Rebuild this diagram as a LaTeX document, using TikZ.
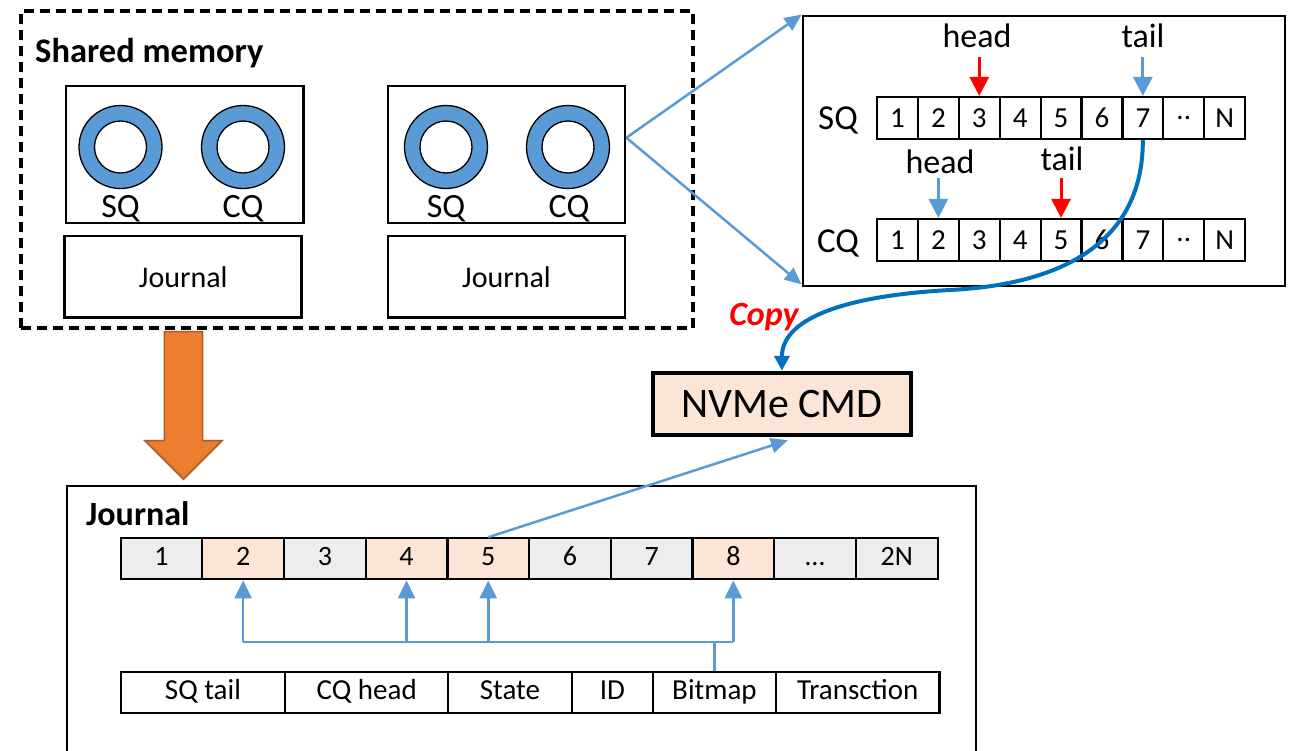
\documentclass[tikz,border=0pt]{standalone}
\usepackage{fontspec}
\setmainfont{Carlito}
\usetikzlibrary{arrows.meta,calc}
\definecolor{ringblue}{HTML}{5B9BD5}
\definecolor{lblue}{HTML}{5B9BD5}
\definecolor{dblue}{HTML}{0070C0}
\definecolor{peach}{HTML}{FBE5D6}
\definecolor{lgray}{HTML}{EDEDED}
\definecolor{orng}{HTML}{ED7D31}
\definecolor{orngd}{HTML}{AE5A21}
\newcommand{\fs}[1]{\fontsize{#1}{#1}\selectfont}
\newcommand{\twodots}{..}
\newcommand{\jdots}{\ldots}
\begin{document}
\begin{tikzpicture}[x=1pt,y=-1pt,
  box/.style={draw, line width=2.8pt, inner sep=0pt},
  ringnode/.style={circle, draw, line width=1.3pt, fill=ringblue, minimum size=83pt, inner sep=0pt},
  holenode/.style={circle, draw, line width=1.3pt, fill=white, minimum size=52pt, inner sep=0pt},
  qcell/.style={draw, line width=2.2pt, minimum width=40.9pt, minimum height=42pt, inner sep=0pt, font=\fs{29}},
  jcell/.style={draw, line width=2.2pt, minimum width=81.7pt, minimum height=41pt, inner sep=0pt, font=\fs{28}, text height=19pt, text depth=5pt},
  fcell/.style={draw, line width=2.2pt, minimum height=41.6pt, inner sep=0pt, font=\fs{29}, text height=20pt, text depth=6pt},
  lbl/.style={inner sep=0pt, anchor=base},
  bigtip/.style={-{Triangle[width=19pt,length=19pt]}, line width=3pt},
  thinarrow/.style={-{Triangle[width=15pt,length=17pt]}, line width=2.5pt, draw=lblue},
]
\useasboundingbox (0,0) rectangle (1289,750);
\clip (0,0) rectangle (1289,750);

% Shared memory
\node[draw, line width=3.5pt, dash pattern=on 10pt off 6pt, minimum width=672pt, minimum height=317pt, anchor=north west, inner sep=0pt] (shm) at (19,9) {};
\node[anchor=base west, inner sep=0pt, font=\bfseries\fs{34.5}] (shmt) at (35,62) {Shared memory};

\node[box, minimum width=237.6pt, minimum height=137pt] (lb) at (184.8,154.5) {};
\node[box, minimum width=237pt, minimum height=137pt] (rb) at (506.5,154.5) {};
\node[box, minimum width=237pt, minimum height=81.7pt, font=\fs{30}] (lj) at (183.3,276.9) {Journal};
\node[box, minimum width=237pt, minimum height=81.7pt, font=\fs{30}] (rj) at (506.5,276.9) {Journal};

\foreach \n/\x in {a/120.5, b/243, c/446, d/568} {
  \node[ringnode] (ring\n) at (\x,147) {};
  \node[holenode] (hole\n) at (\x,147) {};
}
\node[lbl, font=\fs{34}] (sqa) at (120.5,217) {SQ};
\node[lbl, font=\fs{34}] (cqa) at (243,217) {CQ};
\node[lbl, font=\fs{34}] (sqb) at (446,217) {SQ};
\node[lbl, font=\fs{34}] (cqb) at (569,217) {CQ};

% Queue box
\node[box, minimum width=482pt, minimum height=270pt] (qb) at (1044,151) {};
\node[lbl, font=\fs{35}] (sqlab) at (838,129) {SQ};
\node[lbl, font=\fs{35}] (cqlab) at (838,252) {CQ};
\foreach \i/\t in {1/1,2/2,3/3,4/4,5/5,6/6,7/7,8/\twodots,9/N} {
  \node[qcell] (sq\i) at ({877+40.9*(\i-0.5)},118) {\t};
  \node[qcell] (cq\i) at ({877+40.9*(\i-0.5)},240) {\t};
}
\node[lbl, font=\fs{34}] (sqhead) at (977,47) {head};
\node[lbl, font=\fs{34}] (sqtail) at (1143,47) {tail};
\node[lbl, font=\fs{34}] (cqhead) at (940,173) {head};
\node[lbl, font=\fs{34}] (cqtail) at (1062,170) {tail};
\draw[bigtip, red, shorten <=10pt] (sq3.north |- sqhead.south) -- (sq3.north);
\draw[bigtip, lblue, shorten <=10pt] (sq7.north |- sqtail.south) -- (sq7.north);
\draw[bigtip, lblue, shorten <=5pt] (cq2.north |- cqhead.south) -- (cq2.north);
\draw[bigtip, red, shorten <=8pt] (cq5.north |- cqtail.south) -- (cq5.north);

% fan arrows
\coordinate (fan) at ($(rb.north east)!0.38!(rb.south east)$);
\draw[thinarrow] (fan) -- (qb.north west);
\draw[thinarrow] (fan) -- ([yshift=3pt]qb.south west);

% NVMe CMD
\node[draw, line width=4.5pt, fill=peach, minimum width=257.7pt, minimum height=62pt, inner sep=0pt, font=\fs{42}] (nvme) at (781.9,404) {NVMe CMD};
\node[inner sep=0pt, text=red, font=\bfseries\itshape\fs{34}] (copy) at (764,317) {Copy};
\draw[dblue, line width=4pt, -{Triangle[width=15pt,length=15pt]}] (sq7.south) .. controls (1143,250) and (1050,285) .. (950,290) .. controls (840,296) and (nvme.north |- 0,320) .. (nvme.north);

% orange arrow
\draw[fill=orng, draw=orngd, line width=1.5pt, line join=miter] (164.3,331.7) -- (202.7,331.7) -- (202.7,440.7) -- (222,440.7) -- (183.5,479.3) -- (145,440.7) -- (164.3,440.7) -- cycle;

% Journal box
\node[draw, line width=2.2pt, minimum width=909pt, minimum height=300pt, anchor=north west, inner sep=0pt] (jbox) at (66,485) {};
\node[anchor=base west, inner sep=0pt, font=\bfseries\fs{34}] (jt) at (86,525) {Journal};
\foreach \i/\t/\c in {1/1/lgray, 2/2/peach, 3/3/lgray, 4/4/peach, 5/5/peach, 6/6/lgray, 7/7/lgray, 8/8/peach, 9/\jdots/lgray, 10/2N/lgray} {
  \node[jcell, fill=\c] (j\i) at ({120.6+81.7*(\i-0.5)},558.8) {\t};
}
\node[fcell, minimum width=164.7pt] (f1) at (202.95,692.5) {SQ tail};
\node[fcell, minimum width=162.9pt] (f2) at (366.75,692.5) {CQ head};
\node[fcell, minimum width=123.6pt] (f3) at (510,692.5) {State};
\node[fcell, minimum width=81.2pt] (f4) at (612.4,692.5) {ID};
\node[fcell, minimum width=122.9pt] (f5) at (714.45,692.5) {Bitmap};
\node[fcell, minimum width=163.5pt] (f6) at (857.65,692.5) {Transction};

\coordinate (bus) at (714.45,642);
\draw[lblue, line width=2.5pt] (f5.north) -- (f5.north |- bus);
\draw[lblue, line width=2.5pt] (j2.south |- bus) -- (j8.south |- bus);
\foreach \k in {2,4,5,8} {
  \draw[lblue, line width=2.5pt, -{Triangle[width=17pt,length=18pt]}] (j\k.south |- bus) -- (j\k.south);
}
\draw[thinarrow] (j5.north) -- ([xshift=6pt,yshift=-3pt]nvme.south);
\end{tikzpicture}
\end{document}
